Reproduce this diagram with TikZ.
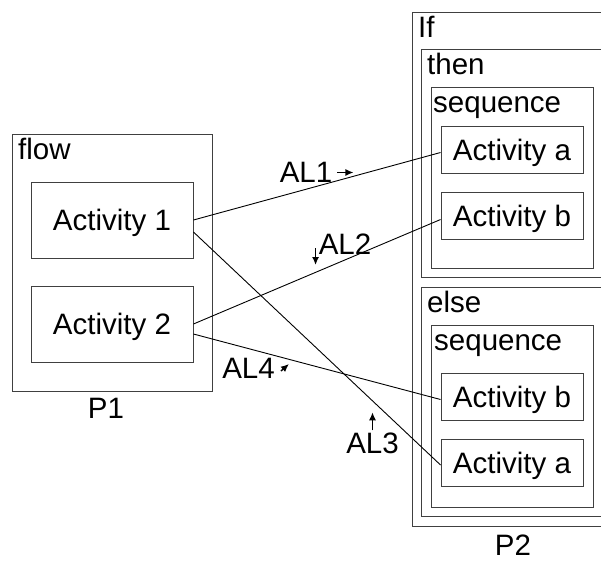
\documentclass[tikz,border=0pt]{standalone}
\usepackage{fontspec}
\setmainfont{Liberation Sans}
\usetikzlibrary{arrows.meta}
\tikzset{
  scatola/.style={draw=black!75, line width=0.9pt, anchor=north west, inner sep=0pt},
  etichetta/.style={anchor=north west, inner xsep=6pt, inner ysep=4pt, text height=21pt, text depth=0pt},
  attivita/.style={draw=black!75, line width=0.9pt, inner sep=0pt, text height=21pt, text depth=0pt},
  collega/.style={line width=0.9pt},
  nome/.style={inner sep=0pt, text height=20pt, text depth=0pt},
  freccia/.style={-{Latex[length=8pt,width=7pt]}, line width=1.4pt}
}
\begin{document}
\begin{tikzpicture}[x=1pt,y=-1pt,font=\fontsize{29.5}{33}\selectfont]
\useasboundingbox (0,0) rectangle (601,560);
% processo P1
\node[scatola, minimum width=200, minimum height=257] (flow) at (12,134) {};
\node[etichetta] at (flow.north west) {flow};
\node[attivita, minimum width=162, minimum height=76] (act1) at (112,220) {Activity 1};
\node[attivita, minimum width=162, minimum height=76] (act2) at (112,324) {Activity 2};
\node[nome] (p1) at (106,408) {P1};
% processo P2
\node[scatola, minimum width=200, minimum height=514] (if) at (412,12) {};
\node[etichetta] at (if.north west) {If};
\node[scatola, minimum width=182, minimum height=228] (then) at (421,49) {};
\node[etichetta] at (then.north west) {then};
\node[scatola, minimum width=162, minimum height=181] (seqa) at (431,87) {};
\node[etichetta, inner xsep=2pt] at (seqa.north west) {sequence};
\node[attivita, minimum width=142, minimum height=47] (thenA) at (512,149.5) {Activity a};
\node[attivita, minimum width=142, minimum height=47] (thenB) at (512,215.5) {Activity b};
\node[scatola, minimum width=182, minimum height=229] (else) at (421,287) {};
\node[etichetta] at (else.north west) {else};
\node[scatola, minimum width=162, minimum height=182] (seqb) at (431,325) {};
\node[etichetta, inner xsep=3pt] at (seqb.north west) {sequence};
\node[attivita, minimum width=142, minimum height=47] (elseB) at (512,396.5) {Activity b};
\node[attivita, minimum width=142, minimum height=47] (elseA) at (512,463) {Activity a};
\node[nome] (p2) at (513,545) {P2};
% collegamenti
\draw[collega] (act1.east) -- ([yshift=-3pt]thenA.west); % AL1
\draw[collega] (act2.east) -- ([yshift=-4pt]thenB.west); % AL2
\draw[collega] ([yshift=-12pt]act1.east) -- ([yshift=-2pt]elseA.west); % AL3
\draw[collega] ([yshift=-10pt]act2.east) -- ([yshift=-3pt]elseB.west); % AL4
% nomi dei collegamenti con il verso
\node[nome] (al1) at (306,172.5) {AL1};
\draw[freccia] (al1.east) ++(5,0) -- ++(16,0);
\node[nome] (al2) at (345,244) {AL2};
\draw[freccia] (al2.west) ++(-3,4) -- ++(0,17);
\node[nome] (al3) at (372.5,443.5) {AL3};
\draw[freccia] (al3.north) ++(0,-3) -- ++(0,-18);
\node[nome] (al4) at (248.5,368.5) {AL4};
\draw[freccia] (al4.east) ++(6,2.5) -- ++(8,-7);
\end{tikzpicture}
\end{document}
